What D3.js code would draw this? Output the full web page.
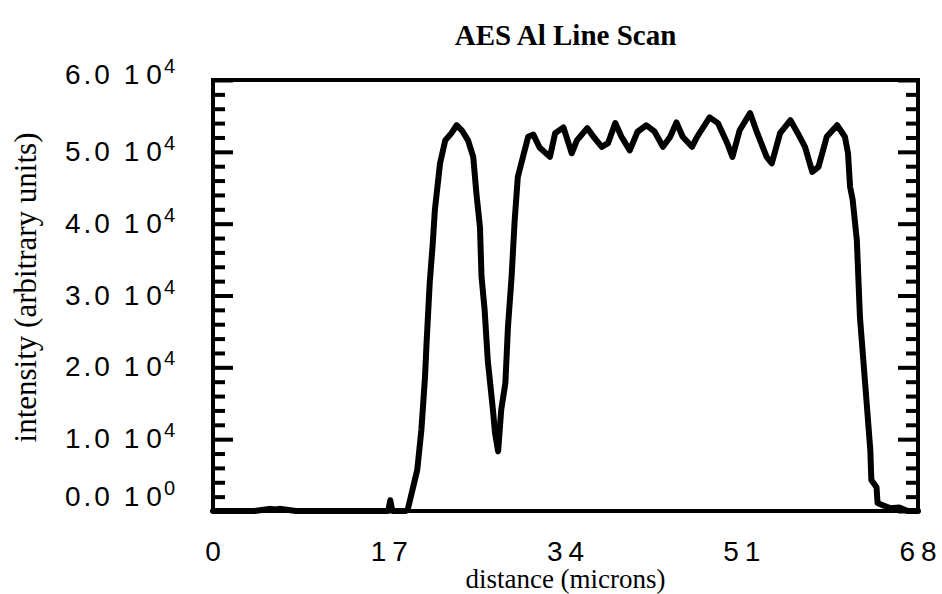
<!DOCTYPE html>
<html>
<head>
<meta charset="utf-8">
<script src="https://cdn.jsdelivr.net/npm/d3@7"></script>
<style>
  html, body { margin: 0; padding: 0; background: #fff; }
  svg { display: block; }
</style>
</head>
<body>
<svg id="chart" width="942" height="594"></svg>
<script>
// AES aluminium line scan: intensity along the scan distance
const distance = [
  0, 2, 4, 5.6, 6.0, 6.4, 8, 10, 12, 14, 16, 16.9, 17.1, 17.3, 18, 18.6,
  18.8, 19.3, 19.7, 20.1, 20.45, 20.6, 20.9, 21.2, 21.4, 21.9, 22.4, 23.0, 23.5, 24.0,
  24.6, 25.1, 25.4, 25.75, 25.9, 26.2, 26.5, 27.0, 27.2, 27.5, 27.8, 28.2, 28.45, 28.8,
  29.1, 29.4, 29.9, 30.4, 30.9, 31.5, 32.5, 33.0, 33.8, 34.6, 35.1, 36.1, 36.7, 37.5,
  38.1, 38.8, 39.4, 40.2, 40.95, 41.8, 42.6, 43.4, 44.1, 44.7, 45.3, 46.2, 46.7, 47.9,
  48.7, 49.6, 50.1, 50.8, 51.8, 52.5, 53.4, 53.9, 54.7, 55.7, 56.4, 57.1, 57.8, 58.4,
  59.2, 60.2, 60.95, 61.25, 61.45, 61.7, 62.1, 62.4, 62.9, 63.4, 63.5, 64.0, 64.1, 64.6,
  65.3, 66.2, 67, 68
];
const intensity = [
  0, 0, 0, 300, 200, 300, 0, 0, 0, 0, 0, 0, 1500, 0, 0, 0,
  300, 3300, 5700, 11300, 18700, 23400, 31700, 37300, 41900, 48400, 51600, 52600, 53700, 53000,
  51600, 49300, 44300, 39500, 32600, 28000, 21000, 14100, 10900, 8300, 14100, 17800, 25600, 32600,
  40500, 46500, 49300, 52100, 52400, 50600, 49300, 52600, 53400, 49800, 51600, 53300, 52100, 50700,
  51200, 54000, 52100, 50200, 52800, 53700, 52800, 50700, 52100, 54100, 52100, 50700, 52100, 54800,
  54000, 51200, 49300, 53000, 55400, 52600, 49300, 48400, 52600, 54400, 52600, 50700, 47200, 47900,
  52100, 53700, 52100, 49800, 45100, 43300, 37700, 27000, 17800, 8500, 4300, 3300, 1100, 800,
  400, 500, 0, 0
];

const xTicks = [0, 17, 34, 51, 68];
const yMajorTicks = [0, 10000, 20000, 30000, 40000, 50000, 60000];
const yMinorTicks = d3.range(0, 60001, 2000).filter(v => v % 10000 !== 0);

const titleText = "AES Al Line Scan";
const xLabelText = "distance (microns)";
const yLabelText = "intensity (arbitrary units)";

const margin = { left: 213, right: 24, top: 80, bottom: 83 };
const W = 942, H = 594;
const svg = d3.select("#chart");

const x = d3.scaleLinear().domain([0, 68]).range([margin.left, W - margin.right]);
const y = d3.scaleLinear().domain([0, 60000]).range([H - margin.bottom, margin.top]);

const sansFont = "'Liberation Sans', Arial, Helvetica, sans-serif";
const serifFont = "'Liberation Serif', 'Times New Roman', Times, serif";

// Data line
const line = d3.line().x((d, i) => x(distance[i])).y(d => y(d));
svg.append("path")
  .datum(intensity)
  .attr("d", line)
  .attr("fill", "none")
  .attr("stroke", "#000")
  .attr("stroke-width", 6)
  .attr("stroke-linejoin", "round")
  .attr("stroke-linecap", "round");

// Ticks on left and right edges, pointing inward
function tickAxis(gen, xpos, ticks, size) {
  const g = svg.append("g")
    .attr("transform", `translate(${xpos},0)`)
    .call(gen.scale(y).tickValues(ticks).tickSize(size).tickFormat(""));
  g.select(".domain").remove();
  g.selectAll(".tick line").attr("stroke", "#000").attr("stroke-width", 4);
  return g;
}
tickAxis(d3.axisRight(), x(0), yMajorTicks, 20);
tickAxis(d3.axisRight(), x(0), yMinorTicks, 12);
tickAxis(d3.axisLeft(), x(68), yMajorTicks, 20);
tickAxis(d3.axisLeft(), x(68), yMinorTicks, 12);

// Frame
svg.append("rect")
  .attr("x", x(0)).attr("y", y(60000))
  .attr("width", x(68) - x(0)).attr("height", y(0) - y(60000))
  .attr("fill", "none").attr("stroke", "#000").attr("stroke-width", 4);

// Y tick labels in "m.m 10^e" form
const yLab = svg.append("g").attr("font-family", sansFont).attr("font-size", 28)
  .attr("fill", "#000");
yMajorTicks.forEach(v => {
  const e = v === 0 ? 0 : Math.floor(Math.log10(v));
  const m = v === 0 ? 0 : v / Math.pow(10, e);
  let dy = 9;
  if (v === 60000) dy = 4;
  if (v === 0) dy = -5;
  const t = yLab.append("text")
    .attr("x", x(0) - 38)
    .attr("y", y(v) + dy)
    .attr("text-anchor", "end");
  t.append("tspan").attr("letter-spacing", 3).text(m.toFixed(1) + " ");
  t.append("tspan").attr("letter-spacing", 7).text("1");
  t.append("tspan").text("0");
  t.append("tspan").attr("dy", -11).attr("dx", 2).attr("font-size", 20).text(String(e));
});

// X tick labels
svg.append("g").selectAll("text")
  .data(xTicks)
  .join("text")
  .attr("x", d => x(d) + 3)
  .attr("y", 561)
  .attr("text-anchor", "middle")
  .attr("font-family", sansFont)
  .attr("font-size", 28)
  .attr("letter-spacing", 6)
  .text(d => d);

// Title and axis labels
svg.append("text")
  .attr("x", (x(0) + x(68)) / 2).attr("y", 45)
  .attr("text-anchor", "middle")
  .attr("font-family", serifFont).attr("font-weight", "bold").attr("font-size", 29)
  .text(titleText);

svg.append("text")
  .attr("x", (x(0) + x(68)) / 2).attr("y", 588)
  .attr("text-anchor", "middle")
  .attr("font-family", serifFont).attr("font-size", 27)
  .text(xLabelText);

svg.append("text")
  .attr("transform", `translate(36,${(y(0) + y(60000)) / 2 - 8}) rotate(-90)`)
  .attr("text-anchor", "middle")
  .attr("font-family", serifFont).attr("font-size", 31)
  .text(yLabelText);
</script>
</body>
</html>
